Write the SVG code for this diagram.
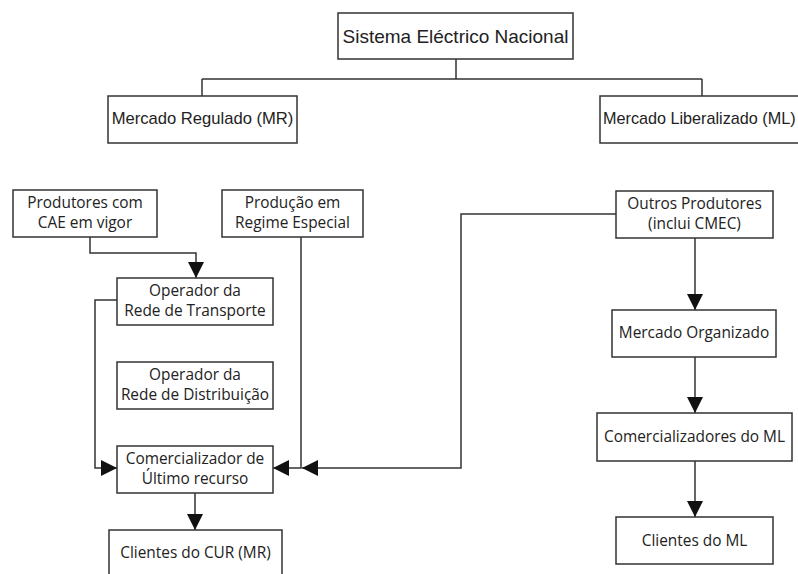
<svg xmlns="http://www.w3.org/2000/svg" width="798" height="574" viewBox="0 0 798 574">
  <defs>
    <marker id="arrow" viewBox="0 0 16 16" refX="16" refY="8" markerWidth="16" markerHeight="16" markerUnits="userSpaceOnUse" orient="auto">
      <path d="M0,0 L16,8 L0,16 Z" fill="#111"/>
    </marker>
    <style>
      .box { fill: #fff; stroke: #333; stroke-width: 1.5; }
      .wire { fill: none; stroke: #333; stroke-width: 1.5; }
      .arr { marker-end: url(#arrow); }
      .t1 { font-family: "Liberation Sans", Arial, sans-serif; font-size: 16.6px; fill: #222; text-anchor: middle; }
      .t2 { font-family: "Open Sans", "DejaVu Sans", sans-serif; font-size: 15.4px; fill: #222; text-anchor: middle; }
    </style>
  </defs>

  <rect width="798" height="574" fill="#fff"/>

  <!-- connectors -->
  <g id="connectors">
    <!-- hierarchy at the top -->
    <path class="wire" d="M456,59 V79 M202,79 H702 M202,79 V96 M702,79 V96"/>
    <!-- Produtores com CAE -> Operador da Rede de Transporte -->
    <path class="wire arr" d="M90,237 V253 H196 V278"/>
    <!-- Operador da Rede de Transporte -> Comercializador de Último recurso -->
    <path class="wire arr" d="M117,300 H95 V468 H117"/>
    <!-- Produção em Regime Especial -> Comercializador -->
    <path class="wire arr" d="M301,237 V468 H273"/>
    <!-- Outros Produtores -> Comercializador -->
    <path class="wire arr" d="M616,214 H461 V468 H302"/>
    <!-- Comercializador -> Clientes do CUR -->
    <path class="wire arr" d="M195,493 V530"/>
    <!-- liberalized market chain -->
    <path class="wire arr" d="M695,238 V310"/>
    <path class="wire arr" d="M695,357 V413"/>
    <path class="wire arr" d="M695,461 V517"/>
  </g>

  <g id="sistema">
    <rect class="box" x="338" y="13" width="235" height="46"/>
    <text class="t1" x="455.5" y="43" style="font-size:19px">Sistema Eléctrico Nacional</text>
  </g>

  <g id="mercado-regulado">
    <rect class="box" x="108" y="96" width="189" height="47"/>
    <text class="t1" x="202.5" y="124">Mercado Regulado (MR)</text>
  </g>

  <g id="mercado-liberalizado">
    <rect class="box" x="600" y="96" width="210" height="47"/>
    <text class="t1" x="603" y="124" style="text-anchor:start;font-size:16.2px">Mercado Liberalizado (ML)</text>
  </g>

  <g id="produtores-cae">
    <rect class="box" x="13" y="190" width="144" height="47"/>
    <text class="t2" x="85" y="208">Produtores com</text>
    <text class="t2" x="85" y="228">CAE em vigor</text>
  </g>

  <g id="producao-especial">
    <rect class="box" x="222" y="190" width="141" height="47"/>
    <text class="t2" x="292.5" y="208">Produção em</text>
    <text class="t2" x="292.5" y="228">Regime Especial</text>
  </g>

  <g id="operador-transporte">
    <rect class="box" x="117" y="278" width="156" height="47"/>
    <text class="t2" x="195" y="296">Operador da</text>
    <text class="t2" x="195" y="316">Rede de Transporte</text>
  </g>

  <g id="operador-distribuicao">
    <rect class="box" x="117" y="362" width="156" height="47"/>
    <text class="t2" x="195" y="380">Operador da</text>
    <text class="t2" x="195" y="400">Rede de Distribuição</text>
  </g>

  <g id="comercializador-ultimo-recurso">
    <rect class="box" x="117" y="446" width="156" height="47"/>
    <text class="t2" x="195" y="464">Comercializador de</text>
    <text class="t2" x="195" y="484">Último recurso</text>
  </g>

  <g id="clientes-cur">
    <rect class="box" x="109" y="530" width="173" height="60"/>
    <text class="t2" x="195.5" y="558">Clientes do CUR (MR)</text>
  </g>

  <g id="outros-produtores">
    <rect class="box" x="616" y="191" width="157" height="47"/>
    <text class="t2" x="694.5" y="209">Outros Produtores</text>
    <text class="t2" x="694.5" y="229">(inclui CMEC)</text>
  </g>

  <g id="mercado-organizado">
    <rect class="box" x="612" y="310" width="164" height="47"/>
    <text class="t2" x="694" y="338">Mercado Organizado</text>
  </g>

  <g id="comercializadores-ml">
    <rect class="box" x="597" y="413" width="195" height="48"/>
    <text class="t2" x="694.5" y="442">Comercializadores do ML</text>
  </g>

  <g id="clientes-ml">
    <rect class="box" x="616" y="517" width="157" height="47"/>
    <text class="t2" x="694.5" y="546">Clientes do ML</text>
  </g>
</svg>
